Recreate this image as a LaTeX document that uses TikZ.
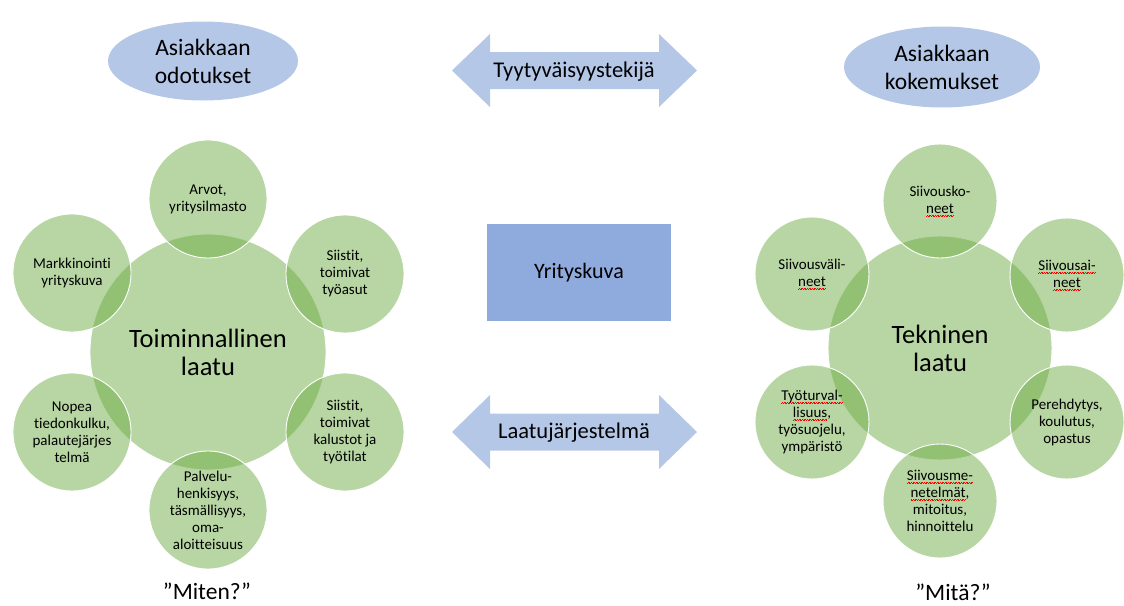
\documentclass[tikz,border=0pt]{standalone}
\usepackage{fontspec}
\setmainfont[Ligatures=NoCommon]{Carlito}
\usetikzlibrary{shapes.geometric}

\definecolor{paleblue}{HTML}{B4C7E7}
\definecolor{midblue}{HTML}{8FAADC}
\definecolor{leafgreen}{HTML}{70AD47}

% red wavy proofing mark under a word, built from tiny rules
\newcommand\wavecell{\hbox{\vrule width0.8pt height0.55pt depth0pt\raise0.9pt\hbox{\vrule width0.8pt height0.55pt depth0pt}}}
\newcommand\spellmark[1]{%
  \setbox0=\hbox{#1}%
  \rlap{\color{red}\lower3.2pt\hbox to\wd0{\xleaders\wavecell\hfill}}%
  \box0}

\tikzset{
  greenball/.style={circle, fill=leafgreen, fill opacity=0.5, text opacity=1,
    draw=white, draw opacity=1, line width=0.9pt, inner sep=0pt, align=center},
  hub/.style={greenball, font=\fontsize{26.5}{28}\selectfont},
  leaf/.style={greenball, font=\fontsize{15}{17}\selectfont},
  bubble/.style={ellipse, fill=paleblue, inner sep=0pt, align=center,
    font=\fontsize{23.5}{28}\selectfont},
  arrowbody/.style={fill=paleblue},
  arrowtext/.style={font=\fontsize{22.5}{26}\selectfont, inner sep=0pt},
  caption/.style={font=\fontsize{23.5}{26}\selectfont, inner sep=0pt},
}

\begin{document}
\begin{tikzpicture}[x=1pt, y=-1pt]
\useasboundingbox (0,0) rectangle (1124,605);

% customer expectations / experiences
\node[bubble, minimum width=190pt, minimum height=79pt] (expect) at (203,61) {Asiakkaan\\odotukset};
\node[bubble, minimum width=196pt, minimum height=81pt] (experience) at (942,67) {Asiakkaan\\kokemukset};

% two-way arrows
\fill[arrowbody] (452,70.5) -- (490,34) -- (490,52) -- (659,52) -- (659,34) -- (697,70.5)
  -- (659,107) -- (659,89) -- (490,89) -- (490,107) -- cycle;
\node[arrowtext] (satisfaction) at (574,72) {Tyytyväisyystekijä};

\fill[arrowbody] (452,432) -- (490,395) -- (490,413.5) -- (659,413.5) -- (659,395) -- (697,432)
  -- (659,469) -- (659,450.5) -- (490,450.5) -- (490,469) -- cycle;
\node[arrowtext] (qsystem) at (574,433) {Laatujärjestelmä};

% company image
\node[fill=midblue, minimum width=184pt, minimum height=97pt, inner sep=0pt,
  font=\fontsize{22}{26}\selectfont] (image) at (579,272.5) {Yrityskuva};

% functional quality
\node[hub, minimum size=236pt] (func) at (208,352) {Toiminnallinen\\laatu};
\node[leaf, minimum size=118pt] (f1) at (208,199) {Arvot,\\yritysilmasto};
\node[leaf, minimum size=118pt] (f2) at (345,274) {Siistit,\\toimivat\\työasut};
\node[leaf, minimum size=118pt] (f3) at (345,432) {Siistit,\\toimivat\\kalustot ja\\työtilat};
\node[leaf, minimum size=118pt] (f4) at (208,510) {Palvelu-\\henkisyys,\\täsmällisyys,\\oma-\\aloitteisuus};
\node[leaf, minimum size=118pt] (f5) at (72,432) {Nopea\\tiedonkulku,\\palautejärjes\\telmä};
\node[leaf, minimum size=118pt] (f6) at (72,273) {Markkinointi\\yrityskuva};

% technical quality
\node[hub, minimum size=224pt] (tech) at (940,348) {Tekninen\\laatu};
\node[leaf, minimum size=114pt] (t1) at (940,201) {Siivousko-\\\spellmark{neet}};
\node[leaf, minimum size=114pt] (t2) at (1067,275) {\spellmark{Siivousai-}\\\spellmark{neet}};
\node[leaf, minimum size=114pt] (t3) at (1067,422) {Perehdytys,\\koulutus,\\opastus};
\node[leaf, minimum size=114pt] (t4) at (940,501) {\spellmark{Siivousme-}\\\spellmark{netelmät},\\mitoitus,\\hinnoittelu};
\node[leaf, minimum size=114pt] (t5) at (812,422) {\spellmark{Työturval-}\\\spellmark{lisuus},\\työsuojelu,\\ympäristö};
\node[leaf, minimum size=114pt] (t6) at (812,274) {Siivousväli-\\\spellmark{neet}};

% captions
\node[caption] (how) at (207,591) {”Miten?”};
\node[caption] (what) at (953,592) {”Mitä?”};
\end{tikzpicture}
\end{document}
